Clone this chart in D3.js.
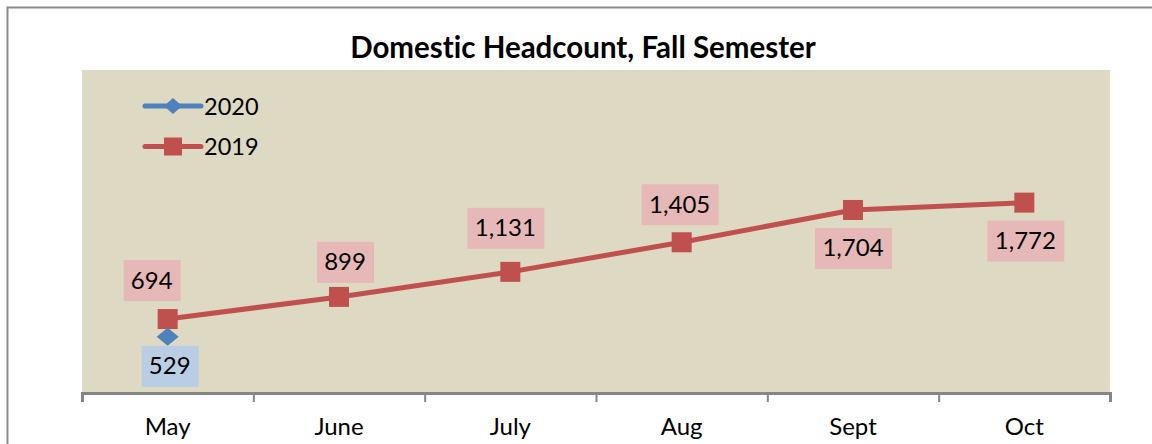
<!DOCTYPE html>
<meta charset="utf-8">
<script src="https://d3js.org/d3.v7.min.js"></script>
<style>
  body { margin: 0; background: #fff; }
  text { font-family: Lato, "Open Sans", sans-serif; font-variant-ligatures: none; }
</style>
<div id="chart"></div>
<script>
// chart data
var months = ["May", "June", "July", "Aug", "Sept", "Oct"];
var values2020 = [529, null, null, null, null, null];
var values2019 = [694, 899, 1131, 1405, 1704, 1772];
var seriesNames = ["2020", "2019"];
var title = "Domestic Headcount, Fall Semester";

// where each label sits relative to its marker (Excel placement)
var labelOffsets2019 = [[-16, -39], [6, -35], [-5, -44], [-2, -38], [0, 38], [1, 38]];
var labelOffsets2020 = [[2, 29]];

var W = 1152, H = 444;
var plot = { left: 82, right: 1110, top: 70, bottom: 394 };

var svg = d3.select("#chart").append("svg")
    .attr("width", W)
    .attr("height", H);

// outer chart frame
svg.append("rect")
    .attr("x", 7.5).attr("y", 7.5)
    .attr("width", W + 20).attr("height", H + 20)
    .attr("fill", "#fff")
    .attr("stroke", "#8a8a8a")
    .attr("stroke-width", 2);

// title
svg.append("text")
    .attr("x", 583).attr("y", 58)
    .attr("text-anchor", "middle")
    .attr("font-size", "29.5px")
    .attr("font-weight", "bold")
    .text(title);

// plot area
svg.append("rect")
    .attr("x", plot.left).attr("y", plot.top)
    .attr("width", plot.right - plot.left)
    .attr("height", plot.bottom - plot.top)
    .attr("fill", "#DDD9C3");

var x = d3.scaleBand().domain(months).range([plot.left, plot.right]);
var y = d3.scaleLinear().domain([0, 3000]).range([plot.bottom, plot.top]);

// x axis: tick marks at category boundaries
var xt = d3.scaleLinear().domain([0, months.length]).range([plot.left, plot.right]);
var axisTicks = svg.append("g")
    .attr("transform", "translate(0," + (plot.bottom - 1) + ")")
    .call(d3.axisBottom(xt).tickValues(d3.range(months.length + 1)).tickSize(9).tickFormat(""));
axisTicks.select(".domain").attr("stroke", "#868686").attr("stroke-width", 3);
axisTicks.selectAll(".tick line").attr("stroke", "#868686").attr("stroke-width", 2);

// x axis labels
var axisLabels = svg.append("g")
    .attr("transform", "translate(0," + (plot.bottom - 1) + ")")
    .call(d3.axisBottom(x).tickSize(0).tickPadding(25));
axisLabels.select(".domain").remove();
axisLabels.selectAll("text")
    .attr("font-family", "Lato, sans-serif")
    .attr("font-size", "24px")
    .attr("fill", "#000");

var line = d3.line()
    .defined(function (d) { return d != null; })
    .x(function (d, i) { return x(months[i]) + x.bandwidth() / 2; })
    .y(function (d) { return y(d); });

var red = "#C0504D", blue = "#4F81BD";
var fmt = d3.format(",");

// 2019 series
svg.append("path")
    .datum(values2019)
    .attr("fill", "none")
    .attr("stroke", red)
    .attr("stroke-width", 5)
    .attr("stroke-linejoin", "round")
    .attr("d", line);

svg.append("g").selectAll("rect")
    .data(values2019)
    .enter().append("rect")
    .attr("x", function (d, i) { return x(months[i]) + x.bandwidth() / 2 - 10; })
    .attr("y", function (d) { return y(d) - 10; })
    .attr("width", 20).attr("height", 20)
    .attr("fill", red);

// 2020 series
var pts2020 = values2020.map(function (v, i) { return { v: v, i: i }; })
    .filter(function (d) { return d.v != null; });

svg.append("path")
    .datum(values2020)
    .attr("fill", "none")
    .attr("stroke", blue)
    .attr("stroke-width", 5)
    .attr("d", line);

svg.append("g").selectAll("path")
    .data(pts2020)
    .enter().append("path")
    .attr("transform", function (d) {
        return "translate(" + (x(months[d.i]) + x.bandwidth() / 2) + "," + y(d.v) + ")";
    })
    .attr("d", "M0,-9 L11,0 L0,9 L-11,0 Z")
    .attr("fill", blue);

// data labels
function addLabels(pts, offsets, bg) {
    var g = svg.append("g").selectAll("g")
        .data(pts)
        .enter().append("g")
        .attr("transform", function (d, k) {
            var cx = x(months[d.i]) + x.bandwidth() / 2 + offsets[k][0];
            var cy = y(d.v) + offsets[k][1];
            return "translate(" + cx + "," + cy + ")";
        });
    g.append("rect")
        .attr("x", function (d) { return d.v >= 1000 ? -38 : -28; })
        .attr("y", -20)
        .attr("width", function (d) { return d.v >= 1000 ? 77 : 57; })
        .attr("height", 41)
        .attr("fill", bg);
    g.append("text")
        .attr("text-anchor", "middle")
        .attr("y", 8.5)
        .attr("font-size", "24px")
        .attr("fill", "#000")
        .text(function (d) { return fmt(d.v); });
}
addLabels(values2019.map(function (v, i) { return { v: v, i: i }; }), labelOffsets2019, "#E6B9B8");
addLabels(pts2020, labelOffsets2020, "#B9CDE5");

// legend
var legend = svg.append("g").selectAll("g")
    .data(seriesNames)
    .enter().append("g")
    .attr("transform", function (d, i) { return "translate(145," + (106 + i * 40.5) + ")"; });

legend.append("line")
    .attr("x1", 0).attr("x2", 56)
    .attr("stroke", function (d, i) { return i === 0 ? blue : red; })
    .attr("stroke-width", 5)
    .attr("stroke-linecap", "round");

legend.append("path")
    .attr("d", function (d, i) {
        return i === 0 ? "M28,-8 L37,0 L28,8 L19,0 Z" : "M19,-9 H37 V9 H19 Z";
    })
    .attr("fill", function (d, i) { return i === 0 ? blue : red; });

legend.append("text")
    .attr("x", 59).attr("y", 8.5)
    .attr("font-size", "23.5px")
    .text(function (d) { return d; });
</script>
